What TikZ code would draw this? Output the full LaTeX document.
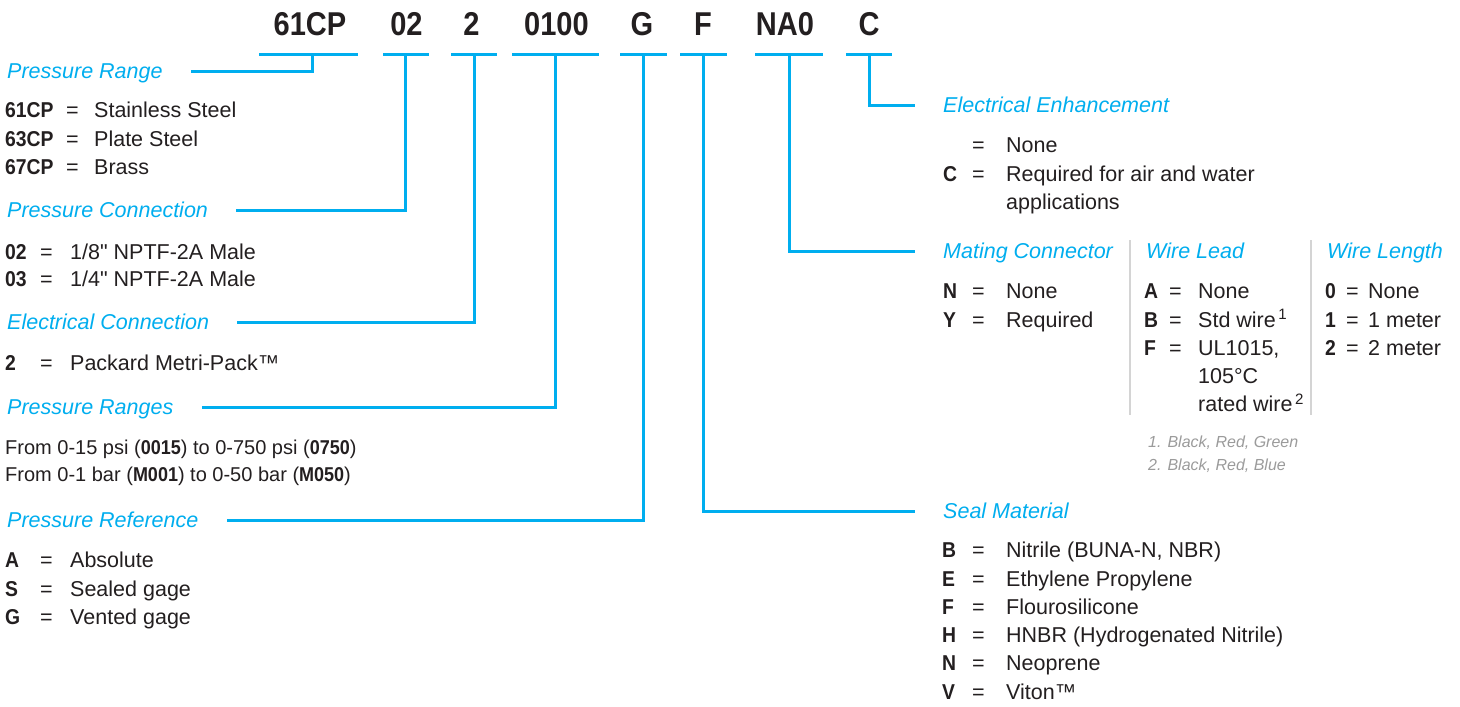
\documentclass[tikz,border=0pt]{standalone}
\usepackage{fontspec}
\usepackage{array}
\setmainfont{Liberation Sans}[BoldFeatures={FakeStretch=0.9}]
\newfontfamily\codefont{Liberation Sans}[FakeStretch=0.88]
\usetikzlibrary{
  calc,
  positioning
}
\definecolor{leadblue}{HTML}{00AEEF}
\definecolor{ink}{HTML}{231F20}
\definecolor{notegray}{HTML}{9B9B9B}
\definecolor{rulegray}{HTML}{D4D4D4}
\newcommand{\keylist}[3]{\begin{tabular}[t]{@{}>{\bfseries}p{#1}@{}p{#2}@{}l@{}}#3\end{tabular}}
\newcommand{\inch}{\XeTeXglyph\XeTeXcharglyph"22 }

\begin{document}
\begin{tikzpicture}[x=1pt, y=-1pt,
    code/.style = {anchor=base, inner sep=0, text=ink,
      font=\codefont\fontsize{33}{33}\selectfont\bfseries},
    bar/.style = {fill=leadblue, inner sep=0, minimum height=3pt, minimum width=#1},
    lead/.style = {draw=leadblue, line width=3pt},
    head/.style = {anchor=west, inner sep=0, text height=15pt, text depth=0pt,
      text=leadblue, font=\fontsize{21.5}{26}\selectfont\itshape},
    keys/.style = {anchor=base west, inner sep=0, text=ink,
      font=\fontsize{21.5}{28.3}\selectfont},
    note/.style = {anchor=base west, inner sep=0, text=notegray,
      font=\fontsize{16}{23}\selectfont\itshape},
    colrule/.style = {draw=rulegray, line width=1.5pt}]
    \useasboundingbox[fill=white] (0,0) rectangle (1460,707);

    \node[code] (cPR) at (310,35) {61CP};
    \node[code] (cPC) at (406.5,35) {02};
    \node[code] (cEC) at (471.5,35) {2};
    \node[code] (cRG) at (556.5,35) {0100};
    \node[code] (cRF) at (642,35) {G};
    \node[code] (cSM) at (703,35) {F};
    \node[code] (cMC) at (785,35) {NA0};
    \node[code] (cEE) at (869,35) {C};

    \node[bar=99pt] (bPR) at (308.5,54) {};
    \node[bar=46pt] (bPC) at (405.5,54) {};
    \node[bar=46pt] (bEC) at (474,54) {};
    \node[bar=87pt] (bRG) at (555,54) {};
    \node[bar=47pt] (bRF) at (643,54) {};
    \node[bar=47pt] (bSM) at (703.5,54) {};
    \node[bar=68pt] (bMC) at (789,54) {};
    \node[bar=46pt] (bEE) at (869,54) {};

    \node[head] (hPR) at (7,71) {Pressure Range};
    \node[head] (hPC) at (7,210) {Pressure Connection};
    \node[head] (hEC) at (7,322) {Electrical Connection};
    \node[head] (hRG) at (7,407) {Pressure Ranges};
    \node[head] (hRF) at (7,520) {Pressure Reference};
    \node[head] (hEE) at (943,105) {Electrical Enhancement};
    \node[head] (hMC) at (943,251) {Mating Connector};
    \node[head] (hWL) at (1146,251) {Wire Lead};
    \node[head] (hWN) at (1327,251) {Wire Length};
    \node[head] (hSM) at (943,511) {Seal Material};

    \draw[lead] ([xshift=3.5pt]bPR.center) |- ([xshift=28pt]hPR.east);
    \draw[lead] (bPC.center) |- ([xshift=28pt]hPC.east);
    \draw[lead] (bEC.center) |- ([xshift=28pt]hEC.east);
    \draw[lead] (bRG.center) |- ([xshift=28pt]hRG.east);
    \draw[lead] (bRF.center) |- ([xshift=28pt]hRF.east);
    \draw[lead] (bEE.center) |- ([xshift=-28pt]hEE.west);
    \draw[lead] (bMC.center) |- ([xshift=-28pt]hMC.west);
    \draw[lead] (bSM.center) |- ([xshift=-28pt]hSM.west);

    \node[keys] (lPR) at (5,117.7) {\keylist{61pt}{28pt}{
      61CP & = & Stainless Steel \\ 63CP & = & Plate Steel \\ 67CP & = & Brass}};
    \node[keys, font=\fontsize{21.5}{27}\selectfont] (lPC) at (5,259.7) {\keylist{35pt}{30pt}{
      02 & = & 1/8\inch\ NPTF-2A Male \\ 03 & = & 1/4\inch\ NPTF-2A Male}};
    \node[keys] (lEC) at (5,370.7) {\keylist{35pt}{30pt}{
      2 & = & Packard Metri-Pack™}};
    \node[keys, font=\fontsize{20}{27}\selectfont] (lRG) at (5,454.5) {\begin{tabular}[t]{@{}l@{}}
      From 0-15 psi (\textbf{0015}) to 0-750 psi (\textbf{0750}) \\
      From 0-1 bar (\textbf{M001}) to 0-50 bar (\textbf{M050})
    \end{tabular}};
    \node[keys] (lRF) at (5,567.7) {\keylist{35pt}{30pt}{
      A & = & Absolute \\ S & = & Sealed gage \\ G & = & Vented gage}};

    \node[keys] (lEE) at (943,152.7) {\keylist{29pt}{34pt}{
      & = & None \\ C & = & Required for air and water \\ & & applications}};
    \node[keys] (lMC) at (943,298.7) {\keylist{29pt}{34pt}{
      N & = & None \\ Y & = & Required}};
    \node[keys] (lWL) at (1144,298.7) {\keylist{25pt}{29pt}{
      A & = & None \\ B & = & Std wire\textsuperscript{\,1} \\ F & = & UL1015, \\
      & & 105°C \\ & & rated wire\textsuperscript{\,2}}};
    \node[keys] (lWN) at (1325,298.7) {\keylist{21pt}{22pt}{
      0 & = & None \\ 1 & = & 1 meter \\ 2 & = & 2 meter}};
    \node[note] (nWL) at (1148,447.7) {\begin{tabular}[t]{@{}l@{}}
      1.\hspace{6pt}Black, Red, Green \\ 2.\hspace{6pt}Black, Red, Blue
    \end{tabular}};
    \node[keys] (lSM) at (942,557.7) {\keylist{30pt}{34pt}{
      B & = & Nitrile (BUNA-N, NBR) \\ E & = & Ethylene Propylene \\
      F & = & Flourosilicone \\ H & = & HNBR (Hydrogenated Nitrile) \\
      N & = & Neoprene \\ V & = & Viton™}};

    \draw[colrule] (1130,240) -- (1130,415);
    \draw[colrule] (1311,240) -- (1311,415);
  \end{tikzpicture}
\end{document}
